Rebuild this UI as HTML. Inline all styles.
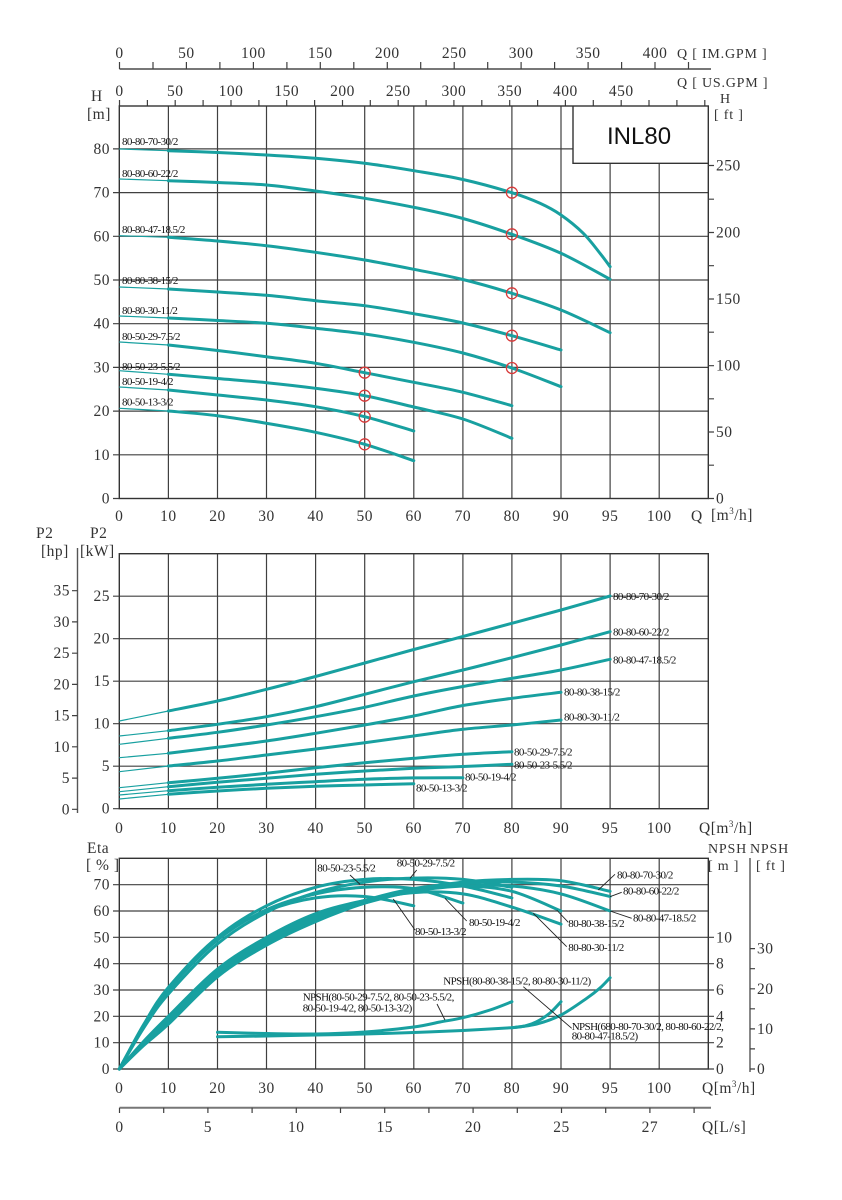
<!DOCTYPE html>
<html><head><meta charset="utf-8"><style>
html,body{margin:0;padding:0;background:#fff}
svg{display:block}
.ax{font-family:"Liberation Serif",serif;font-size:15.5px;fill:#333;letter-spacing:0.5px}
.axs{font-family:"Liberation Serif",serif;font-size:14px;fill:#333;letter-spacing:0.8px}
.lb{font-family:"Liberation Serif",serif;font-size:11px;fill:#111;letter-spacing:-0.6px}
.g{stroke:#404040;stroke-width:1.2;fill:none}
.f{stroke:#333;stroke-width:1.4;fill:none}
.c{stroke:#18a0a0;stroke-width:3;fill:none;stroke-linejoin:round;stroke-linecap:round}
.t{stroke:#18a0a0;stroke-width:1.2;fill:none}
.cir{stroke:#d83a3a;stroke-width:1.3;fill:none}
.ld{stroke:#222;stroke-width:0.9;fill:none}
</style></head><body>
<svg id="s" width="842" height="1200" viewBox="0 0 842 1200" xmlns="http://www.w3.org/2000/svg">
<rect width="842" height="1200" fill="#fff"/>

<!-- ===== TOP FLOW AXES ===== -->
<line x1="119.5" y1="69" x2="711" y2="69" stroke="#777" stroke-width="2"/>
<path class="g" d="M119.5 69V62M153 69V62M186.4 69V62M219.9 69V62M253.4 69V62M286.9 69V62M320.3 69V62M353.8 69V62M387.3 69V62M420.7 69V62M454.2 69V62M487.7 69V62M521.1 69V62M554.6 69V62M588.1 69V62M621.6 69V62M655 69V62M688.5 69V62"/>
<g class="ax" text-anchor="middle">
<text x="119.5" y="58">0</text><text x="186.4" y="58">50</text><text x="253.4" y="58">100</text><text x="320.3" y="58">150</text><text x="387.3" y="58">200</text><text x="454.2" y="58">250</text><text x="521.1" y="58">300</text><text x="588.1" y="58">350</text><text x="655" y="58">400</text>
</g>
<text class="axs" x="677" y="58">Q [ IM.GPM ]</text>
<text class="axs" x="677" y="87">Q [ US.GPM ]</text>
<g class="ax" text-anchor="middle">
<text x="119.5" y="96">0</text><text x="175.2" y="96">50</text><text x="231" y="96">100</text><text x="286.7" y="96">150</text><text x="342.5" y="96">200</text><text x="398.2" y="96">250</text><text x="453.9" y="96">300</text><text x="509.7" y="96">350</text><text x="565.4" y="96">400</text><text x="621.2" y="96">450</text>
</g>
<path class="g" d="M119.5 106V100M147.4 106V100M175.2 106V100M203.1 106V100M231 106V100M258.9 106V100M286.7 106V100M314.6 106V100M342.5 106V100M370.3 106V100M398.2 106V100M426.1 106V100M453.9 106V100M481.8 106V100M509.7 106V100M537.6 106V100M565.4 106V100M593.3 106V100M621.2 106V100M649 106V100M676.9 106V100M704.8 106V100"/>

<!-- ===== H CHART ===== -->
<text class="ax" x="91" y="101">H</text>
<text class="ax" x="87" y="119">[m]</text>
<text class="axs" x="720" y="103" font-size="13">H</text>
<text class="axs" x="714" y="119">[ ft ]</text>

<path class="g" d="M168.4 106V498.5M217.5 106V498.5M266.5 106V498.5M315.6 106V498.5M364.7 106V498.5M413.8 106V498.5M462.9 106V498.5M511.9 106V498.5M561 106V498.5M610.1 163.3V498.5M659.2 163.3V498.5"/>
<path class="g" d="M119.3 454.8H708.3M119.3 411.1H708.3M119.3 367.4H708.3M119.3 323.7H708.3M119.3 280H708.3M119.3 236.3H708.3M119.3 192.6H708.3M119.3 148.9H573"/>
<rect class="f" x="119.3" y="106" width="589" height="392.5"/>
<path class="f" d="M573 106V163.3H708.3"/>
<text x="607" y="144" font-family="Liberation Sans,sans-serif" font-size="24" fill="#111">INL80</text>
<path class="g" d="M113 498.5H119.3M113 454.8H119.3M113 411.1H119.3M113 367.4H119.3M113 323.7H119.3M113 280H119.3M113 236.3H119.3M113 192.6H119.3M113 148.9H119.3"/>
<g class="ax" text-anchor="end">
<text x="110" y="503.5">0</text><text x="110" y="459.8">10</text><text x="110" y="416.1">20</text><text x="110" y="372.4">30</text><text x="110" y="328.7">40</text><text x="110" y="285">50</text><text x="110" y="241.3">60</text><text x="110" y="197.6">70</text><text x="110" y="153.9">80</text>
</g>
<path class="g" d="M708.3 498.5H714M708.3 465.2H714M708.3 432H714M708.3 398.8H714M708.3 365.7H714M708.3 332.2H714M708.3 299H714M708.3 265.7H714M708.3 232.5H714M708.3 199.2H714M708.3 165.5H714"/>
<g class="ax">
<text x="716" y="503.5">0</text><text x="716" y="437">50</text><text x="716" y="370.7">100</text><text x="716" y="304">150</text><text x="716" y="237.5">200</text><text x="716" y="170.5">250</text>
</g>
<g class="ax" text-anchor="middle">
<text x="119.3" y="521">0</text><text x="168.4" y="521">10</text><text x="217.5" y="521">20</text><text x="266.5" y="521">30</text><text x="315.6" y="521">40</text><text x="364.7" y="521">50</text><text x="413.8" y="521">60</text><text x="462.9" y="521">70</text><text x="511.9" y="521">80</text><text x="561" y="521">90</text><text x="610.1" y="521">95</text><text x="659.2" y="521">100</text>
</g>
<text class="ax" x="691" y="521">Q</text>
<text class="ax" x="711" y="520">[m<tspan dy="-6" font-size="9">3</tspan><tspan dy="6">/h]</tspan></text>

<!-- H curves -->
<g>
<path class="t" d="M119.3 149L168.4 150.7M119.3 179L168.4 180.7M119.3 235.7L168.4 237.3M119.3 287L168.4 289M119.3 316L168.4 318M119.3 342L168.4 345M119.3 370.7L168.4 374.3M119.3 387L168.4 390M119.3 408.3L168.4 411"/>
<polyline class="c" points="168.4,150.7 217.5,152.5 266.5,155 315.6,158.3 364.7,163.3 413.8,170.7 462.9,179.5 511.9,192.7 540,203.3 561,215 583.3,233.3 600,253.3 610.1,266.7"/>
<polyline class="c" points="168.4,180.7 217.5,182.5 266.5,185 315.6,191 364.7,198.3 413.8,207.3 462.9,218.5 511.9,234.3 561,253.3 610.1,279.3"/>
<polyline class="c" points="168.4,237.3 217.5,241 266.5,245.7 315.6,252.3 364.7,260 413.8,269.3 462.9,279.5 511.9,293.3 561,310 610.1,332.7"/>
<polyline class="c" points="168.4,289 217.5,292 266.5,295.3 315.6,300.7 364.7,305.7 413.8,313.7 462.9,323 511.9,335.7 561,350"/>
<polyline class="c" points="168.4,318 217.5,320.5 266.5,323.3 315.6,328.3 364.7,334 413.8,342.3 462.9,353 511.9,368 561,386.7"/>
<polyline class="c" points="168.4,345 217.5,350.5 266.5,356.7 315.6,363.3 364.7,372.7 413.8,382.3 462.9,392.3 511.9,405.7"/>
<polyline class="c" points="168.4,374.3 217.5,378.5 266.5,382.7 315.6,388.3 364.7,395.7 413.8,407 462.9,419 511.9,438.3"/>
<polyline class="c" points="168.4,390 217.5,395 266.5,400 315.6,406.7 364.7,416.7 413.8,431"/>
<polyline class="c" points="168.4,411 217.5,415.7 266.5,423.3 315.6,432.3 364.7,444.3 413.8,460.7"/>
</g>
<g class="cir">
<circle cx="511.9" cy="192.7" r="5.5"/><circle cx="511.9" cy="234.3" r="5.5"/><circle cx="511.9" cy="293.3" r="5.5"/><circle cx="511.9" cy="335.7" r="5.5"/><circle cx="511.9" cy="368" r="5.5"/>
<circle cx="364.7" cy="372.7" r="5.5"/><circle cx="364.7" cy="395.7" r="5.5"/><circle cx="364.7" cy="416.7" r="5.5"/><circle cx="364.7" cy="444.3" r="5.5"/>
</g>
<g class="lb">
<text x="122" y="145">80-80-70-30/2</text>
<text x="122" y="177">80-80-60-22/2</text>
<text x="122" y="233">80-80-47-18.5/2</text>
<text x="122" y="284">80-80-38-15/2</text>
<text x="122" y="314">80-80-30-11/2</text>
<text x="122" y="340">80-50-29-7.5/2</text>
<text x="122" y="370">80-50-23-5.5/2</text>
<text x="122" y="385">80-50-19-4/2</text>
<text x="122" y="405.5">80-50-13-3/2</text>
</g>

<!-- ===== P2 CHART ===== -->
<text class="ax" x="36" y="538">P2</text>
<text class="ax" x="90" y="538">P2</text>
<text class="ax" x="41" y="556">[hp]</text>
<text class="ax" x="80" y="556">[kW]</text>
<line x1="77.5" y1="548" x2="77.5" y2="813" stroke="#555" stroke-width="1.4"/>
<path class="g" d="M72 809.3H77.5M72 778.1H77.5M72 746.8H77.5M72 715.6H77.5M72 684.4H77.5M72 653.2H77.5M72 621.9H77.5M72 590.7H77.5"/>
<g class="ax" text-anchor="end">
<text x="70" y="814.3">0</text><text x="70" y="783.1">5</text><text x="70" y="751.8">10</text><text x="70" y="720.6">15</text><text x="70" y="689.4">20</text><text x="70" y="658.2">25</text><text x="70" y="626.9">30</text><text x="70" y="595.7">35</text>
</g>
<path class="g" d="M168.4 553.7V808.7M217.5 553.7V808.7M266.5 553.7V808.7M315.6 553.7V808.7M364.7 553.7V808.7M413.8 553.7V808.7M462.9 553.7V808.7M511.9 553.7V808.7M561 553.7V808.7M610.1 553.7V808.7M659.2 553.7V808.7"/>
<path class="g" d="M119.3 766.2H708.3M119.3 723.7H708.3M119.3 681.2H708.3M119.3 638.7H708.3M119.3 596.2H708.3"/>
<rect class="f" x="119.3" y="553.7" width="589" height="255"/>
<path class="g" d="M113 808.7H119.3M113 766.2H119.3M113 723.7H119.3M113 681.2H119.3M113 638.7H119.3M113 596.2H119.3"/>
<g class="ax" text-anchor="end">
<text x="110" y="813.7">0</text><text x="110" y="771.2">5</text><text x="110" y="728.7">10</text><text x="110" y="686.2">15</text><text x="110" y="643.7">20</text><text x="110" y="601.2">25</text>
</g>
<g class="ax" text-anchor="middle">
<text x="119.3" y="833">0</text><text x="168.4" y="833">10</text><text x="217.5" y="833">20</text><text x="266.5" y="833">30</text><text x="315.6" y="833">40</text><text x="364.7" y="833">50</text><text x="413.8" y="833">60</text><text x="462.9" y="833">70</text><text x="511.9" y="833">80</text><text x="561" y="833">90</text><text x="610.1" y="833">95</text><text x="659.2" y="833">100</text>
</g>
<text class="ax" x="699" y="833">Q[m<tspan dy="-6" font-size="9">3</tspan><tspan dy="6">/h]</tspan></text>

<path class="t" d="M119.3 721L168.4 711M119.3 736L168.4 730.7M119.3 744.3L168.4 738.3M119.3 757.7L168.4 753.3M119.3 771.7L168.4 766M119.3 787.7L168.4 782.7M119.3 791.7L168.4 786.7M119.3 795L168.4 790.7M119.3 799L168.4 794.3"/>
<polyline class="c" points="168.4,711 217.5,701 266.5,689.3 315.6,676.5 364.7,663 413.8,649.5 462.9,636.5 511.9,623.3 561,610 610.1,596"/>
<polyline class="c" points="168.4,730.7 217.5,724.3 266.5,716.7 315.6,706.7 364.7,694.3 413.8,681.7 462.9,670 511.9,657.7 561,645 610.1,631.7"/>
<polyline class="c" points="168.4,738.3 217.5,732.3 266.5,725 315.6,716.7 364.7,707.3 413.8,696 462.9,686.5 511.9,678.3 561,670 610.1,659.3"/>
<polyline class="c" points="168.4,753.3 217.5,747.3 266.5,741 315.6,733.3 364.7,725 413.8,716 462.9,705.5 511.9,698.3 561,692.3"/>
<polyline class="c" points="168.4,766 217.5,761 266.5,755 315.6,749 364.7,742.7 413.8,736 462.9,729.3 511.9,725 561,720"/>
<polyline class="c" points="168.4,782.7 217.5,778.3 266.5,773.3 315.6,767.7 364.7,762.7 413.8,758.3 462.9,754.3 511.9,751.7"/>
<polyline class="c" points="168.4,786.7 217.5,782.3 266.5,778.3 315.6,774.3 364.7,771 413.8,768.3 462.9,766.5 511.9,764.3"/>
<polyline class="c" points="168.4,790.7 217.5,787.3 266.5,784.3 315.6,781.7 364.7,779.3 413.8,777.9 462.9,777.7"/>
<polyline class="c" points="168.4,794.3 217.5,791 266.5,788.3 315.6,786.3 364.7,785 413.8,783.7"/>
<g class="lb">
<text x="613" y="600">80-80-70-30/2</text>
<text x="613" y="635.3">80-80-60-22/2</text>
<text x="613" y="663.3">80-80-47-18.5/2</text>
<text x="564" y="695.3">80-80-38-15/2</text>
<text x="564" y="720.7">80-80-30-11/2</text>
<text x="514" y="755.3">80-50-29-7.5/2</text>
<text x="514" y="768.3">80-50-23-5.5/2</text>
<text x="465" y="780.7">80-50-19-4/2</text>
<text x="416" y="791.7">80-50-13-3/2</text>
</g>

<!-- ===== ETA / NPSH CHART ===== -->
<text class="ax" x="87" y="853">Eta</text>
<text class="ax" x="86" y="870">[ % ]</text>
<text class="axs" x="708" y="853">NPSH</text>
<text class="axs" x="708" y="870">[ m ]</text>
<text class="axs" x="750" y="853">NPSH</text>
<text class="axs" x="756" y="870">[ ft ]</text>

<path class="g" d="M168.4 858.3V1069M217.5 858.3V1069M266.5 858.3V1069M315.6 858.3V1069M364.7 858.3V1069M413.8 858.3V1069M462.9 858.3V1069M511.9 858.3V1069M561 858.3V1069M610.1 858.3V1069M659.2 858.3V1069"/>
<path class="g" d="M119.3 1042.7H708.3M119.3 1016.3H708.3M119.3 990H708.3M119.3 963.7H708.3M119.3 937.3H708.3M119.3 911H708.3M119.3 884.7H708.3"/>
<rect class="f" x="119.3" y="858.3" width="589" height="210.7"/>
<path class="g" d="M113 1069H119.3M113 1042.7H119.3M113 1016.3H119.3M113 990H119.3M113 963.7H119.3M113 937.3H119.3M113 911H119.3M113 884.7H119.3"/>
<g class="ax" text-anchor="end">
<text x="110" y="1074">0</text><text x="110" y="1047.7">10</text><text x="110" y="1021.3">20</text><text x="110" y="995">30</text><text x="110" y="968.7">40</text><text x="110" y="942.3">50</text><text x="110" y="916">60</text><text x="110" y="889.7">70</text>
</g>
<path class="g" d="M708.3 1069H714M708.3 1042.7H714M708.3 1016.3H714M708.3 990H714M708.3 963.7H714M708.3 937.3H714"/>
<g class="ax">
<text x="716" y="1074">0</text><text x="716" y="1047.7">2</text><text x="716" y="1021.3">4</text><text x="716" y="995">6</text><text x="716" y="968.7">8</text><text x="716" y="942.3">10</text>
</g>
<line x1="750" y1="858" x2="750" y2="1072" stroke="#555" stroke-width="1.4"/>
<path class="g" d="M750 1069H755M750 1048.9H755M750 1028.9H755M750 1008.8H755M750 988.8H755M750 968.7H755M750 948.6H755"/>
<g class="ax">
<text x="757" y="1074">0</text><text x="757" y="1033.9">10</text><text x="757" y="993.8">20</text><text x="757" y="953.6">30</text>
</g>
<g class="ax" text-anchor="middle">
<text x="119.3" y="1093">0</text><text x="168.4" y="1093">10</text><text x="217.5" y="1093">20</text><text x="266.5" y="1093">30</text><text x="315.6" y="1093">40</text><text x="364.7" y="1093">50</text><text x="413.8" y="1093">60</text><text x="462.9" y="1093">70</text><text x="511.9" y="1093">80</text><text x="561" y="1093">90</text><text x="610.1" y="1093">95</text><text x="659.2" y="1093">100</text>
</g>
<text class="ax" x="702" y="1093">Q[m<tspan dy="-6" font-size="9">3</tspan><tspan dy="6">/h]</tspan></text>

<!-- efficiency curves group A -->
<polyline class="c" points="119.3,1069 143.9,1024.2 168.4,987.4 217.5,937.4 266.5,911 315.6,897.9 364.7,896.5 413.8,905.8"/>
<polyline class="c" points="119.3,1069 143.9,1025.6 168.4,990 217.5,940 266.5,909.7 315.6,893.9 364.7,887.3 413.8,888.6 462.9,903.1"/>
<polyline class="c" points="119.3,1069 143.9,1025.6 168.4,990 217.5,937.4 266.5,905.8 315.6,887.3 364.7,879.4 413.8,879.4 462.9,886 511.9,897.9"/>
<polyline class="c" points="119.3,1069 143.9,1027.7 168.4,994 217.5,943.9 266.5,912.3 315.6,892.6 364.7,882.1 413.8,878.1 462.9,879.4 511.9,887.3"/>
<!-- group B -->
<polyline class="c" points="119.3,1069 143.9,1041.1 168.4,1016.3 217.5,969 266.5,937.4 315.6,913.7 364.7,900.5 413.8,892.6 462.9,893.9 511.9,907.1 561,924.2"/>
<polyline class="c" points="119.3,1069 143.9,1042.4 168.4,1019 217.5,971.6 266.5,940 315.6,916.3 364.7,900.5 413.8,890 462.9,886 511.9,891.3 561,911"/>
<polyline class="c" points="119.3,1069 143.9,1044 168.4,1021.6 217.5,974.2 266.5,942.6 315.6,918.9 364.7,903.1 413.8,891.3 462.9,886 511.9,886 561,893.9 610.1,911"/>
<polyline class="c" points="119.3,1069 143.9,1043.2 168.4,1020.3 217.5,972.9 266.5,941.3 315.6,917.6 364.7,900.5 413.8,888.6 462.9,883.4 511.9,882.1 561,886 610.1,896.5"/>
<polyline class="c" points="119.3,1069 143.9,1045.3 168.4,1024.2 217.5,976.8 266.5,945.2 315.6,921.6 364.7,903.1 413.8,890 462.9,882.1 511.9,879.4 561,880.7 610.1,891.3"/>
<!-- NPSH curves -->
<polyline class="c" points="217.5,1032.3 266.5,1033.5 315.6,1034 364.7,1032 413.8,1027 440,1022 462.9,1017.7 490,1010 511.9,1001.7"/>
<polyline class="c" points="217.5,1036.7 266.5,1036 315.6,1035 364.7,1034 413.8,1032.5 462.9,1030.5 511.9,1027.7"/>
<polyline class="c" points="511.9,1027.7 525,1026 536.7,1021.7 550,1013 561,1001.7"/>
<polyline class="c" points="511.9,1027.7 536.7,1024 561,1015 586.7,998.3 600,988 610.1,977.7"/>

<!-- leaders -->
<path class="ld" d="M350 875L360 884.3M416.7 870L410 878.3M393.3 899L415 930M445 898.3L466.7 921M598.3 890L615 874.3M610 896.7L621.7 892.3M610 911L631.7 918.3M556.7 910L568.3 922.3M533.3 913.3L566.7 946.7M437 1004L445 1020M523.3 986.7L571.7 1028.3"/>
<g class="lb">
<text x="317.3" y="871.7">80-50-23-5.5/2</text>
<text x="396.7" y="866.7">80-50-29-7.5/2</text>
<text x="415" y="935">80-50-13-3/2</text>
<text x="469" y="926">80-50-19-4/2</text>
<text x="617" y="878.3">80-80-70-30/2</text>
<text x="623" y="894.5">80-80-60-22/2</text>
<text x="633" y="921.5">80-80-47-18.5/2</text>
<text x="568.3" y="927">80-80-38-15/2</text>
<text x="568.3" y="951">80-80-30-11/2</text>
<text x="302.7" y="1000.7">NPSH(80-50-29-7.5/2, 80-50-23-5.5/2,</text>
<text x="302.7" y="1011.7">80-50-19-4/2, 80-50-13-3/2)</text>
<text x="443.3" y="984.3">NPSH(80-80-38-15/2, 80-80-30-11/2)</text>
<text x="571.7" y="1030">NPSH(680-80-70-30/2, 80-80-60-22/2,</text>
<text x="571.7" y="1039.5">80-80-47-18.5/2)</text>
</g>

<!-- ===== L/s AXIS ===== -->
<line x1="119.5" y1="1107.7" x2="711" y2="1107.7" stroke="#777" stroke-width="2"/>
<path class="g" d="M119.5 1107.7V1113M163.7 1107.7V1113M207.9 1107.7V1113M252.1 1107.7V1113M296.3 1107.7V1113M340.5 1107.7V1113M384.7 1107.7V1113M428.9 1107.7V1113M473.1 1107.7V1113M517.3 1107.7V1113M561.5 1107.7V1113M605.7 1107.7V1113M649.9 1107.7V1113M694.1 1107.7V1113"/>
<g class="ax" text-anchor="middle">
<text x="119.5" y="1132">0</text><text x="207.9" y="1132">5</text><text x="296.3" y="1132">10</text><text x="384.7" y="1132">15</text><text x="473.1" y="1132">20</text><text x="561.5" y="1132">25</text><text x="649.9" y="1132">27</text>
</g>
<text class="ax" x="702" y="1132">Q[L/s]</text>
</svg>
<script>
(function(){
  var NS="http://www.w3.org/2000/svg";
  var pls=document.querySelectorAll("polyline.c");
  for(var k=0;k<pls.length;k++){
    var pl=pls[k];
    var raw=pl.getAttribute("points").trim().split(/\s+/);
    var p=[];
    for(var i=0;i<raw.length;i++){var a=raw[i].split(",");p.push([+a[0],+a[1]]);}
    if(p.length<3) continue;
    var d="M"+p[0][0]+" "+p[0][1];
    for(var i=0;i<p.length-1;i++){
      var p0=p[i>0?i-1:i],p1=p[i],p2=p[i+1],p3=p[i+2<p.length?i+2:i+1];
      var c1x=p1[0]+(p2[0]-p0[0])/6,c1y=p1[1]+(p2[1]-p0[1])/6;
      var c2x=p2[0]-(p3[0]-p1[0])/6,c2y=p2[1]-(p3[1]-p1[1])/6;
      d+="C"+c1x.toFixed(2)+" "+c1y.toFixed(2)+" "+c2x.toFixed(2)+" "+c2y.toFixed(2)+" "+p2[0]+" "+p2[1];
    }
    var path=document.createElementNS(NS,"path");
    path.setAttribute("d",d);
    path.setAttribute("class","c");
    pl.parentNode.replaceChild(path,pl);
  }
})();
</script>
</body></html>
